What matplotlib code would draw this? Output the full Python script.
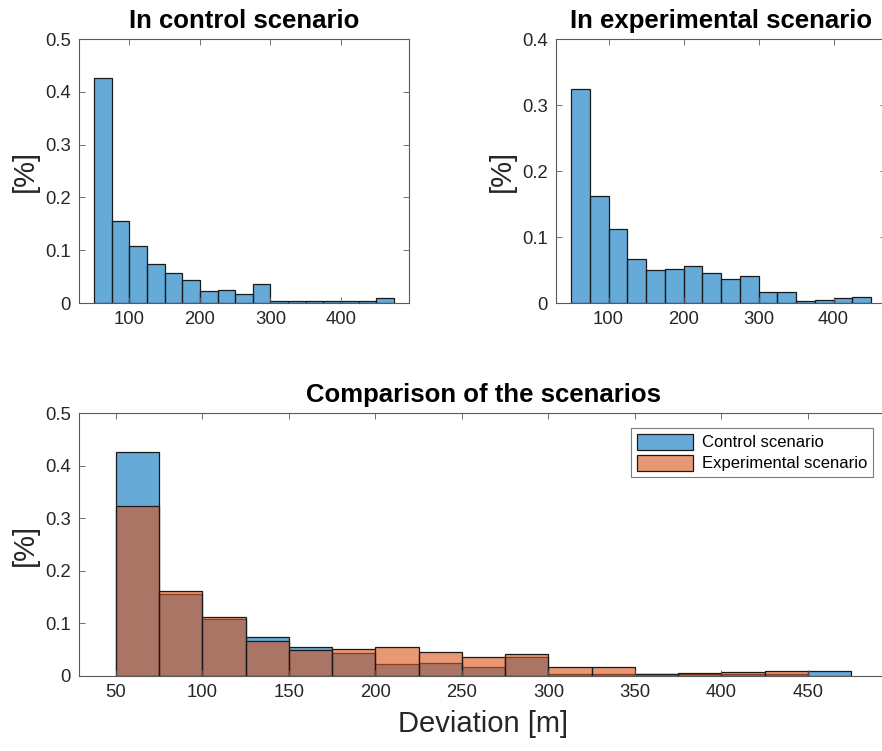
import numpy as np
import matplotlib
matplotlib.use("Agg")
import matplotlib.pyplot as plt

# ---- data ----
bin_edges = [50, 75, 100, 125, 150, 175, 200, 225, 250, 275, 300,
             325, 350, 375, 400, 425, 450, 475]
control = [0.426, 0.156, 0.1085, 0.074, 0.056, 0.0435, 0.0227, 0.0246,
           0.017, 0.036, 0.0044, 0.0044, 0.0044, 0.0044, 0.0044, 0.0044, 0.0095]
experimental = [0.3235, 0.162, 0.1124, 0.0668, 0.050, 0.0516, 0.0557, 0.045,
                0.0365, 0.0415, 0.0167, 0.0167, 0.0035, 0.005, 0.0076, 0.009]

titles = ["In control scenario", "In experimental scenario", "Comparison of the scenarios"]
legend_labels = ["Control scenario", "Experimental scenario"]
ylabel = "[%]"
xlabel = "Deviation [m]"

plt.rcParams['font.family'] = ['Liberation Sans', 'DejaVu Sans']

blue = (0.0, 0.447, 0.741, 0.6)
orange = (0.85, 0.325, 0.098, 0.6)
edge = (0.1, 0.1, 0.1)
axcol = '#262626'

W, H = 882, 751
fig = plt.figure(figsize=(W / 100, H / 100), dpi=100)

def px(l, r, t, b):
    return [l / W, 1 - b / H, (r - l) / W, (b - t) / H]

def style(ax):
    for s in ax.spines.values():
        s.set_color('#5a5a5a')
        s.set_linewidth(0.8)
    ax.tick_params(direction='in', top=True, right=True, length=4, width=0.6,
                   labelsize=13.3, colors='#5a5a5a', labelcolor=axcol, pad=6)

def hist(ax, values, color):
    edges = np.array(bin_edges[:len(values) + 1], dtype=float)
    return ax.bar(edges[:-1], values, width=np.diff(edges), align='edge',
                  facecolor=color, edgecolor=edge, linewidth=0.9)

# top-left
ax1 = fig.add_axes(px(79, 409, 39, 303))
hist(ax1, control, blue)
ax1.set_xlim(28.75, 496.25)
ax1.set_ylim(0, 0.5)
ax1.set_xticks([100, 200, 300, 400])
ax1.set_yticks([0, 0.1, 0.2, 0.3, 0.4, 0.5])
ax1.set_yticklabels(['0', '0.1', '0.2', '0.3', '0.4', '0.5'])
ax1.set_title(titles[0], fontsize=18.5, fontweight='bold', pad=8)
ax1.set_ylabel(ylabel, fontsize=21, color=axcol, labelpad=4)
style(ax1)

# top-right
ax2 = fig.add_axes(px(556, 886, 39, 303))
hist(ax2, experimental, blue)
ax2.set_xlim(30, 470)
ax2.set_ylim(0, 0.4)
ax2.set_xticks([100, 200, 300, 400])
ax2.set_yticks([0, 0.1, 0.2, 0.3, 0.4])
ax2.set_yticklabels(['0', '0.1', '0.2', '0.3', '0.4'])
ax2.set_title(titles[1], fontsize=18.5, fontweight='bold', pad=8)
ax2.set_ylabel(ylabel, fontsize=21, color=axcol, labelpad=4)
style(ax2)

# bottom comparison
ax3 = fig.add_axes(px(79, 888, 413, 676))
hist(ax3, control, blue)
hist(ax3, experimental, orange)
ax3.set_xlim(28.75, 496.25)
ax3.set_ylim(0, 0.5)
ax3.set_xticks([50, 100, 150, 200, 250, 300, 350, 400, 450])
ax3.set_yticks([0, 0.1, 0.2, 0.3, 0.4, 0.5])
ax3.set_yticklabels(['0', '0.1', '0.2', '0.3', '0.4', '0.5'])
ax3.set_title(titles[2], fontsize=18.5, fontweight='bold', pad=8)
ax3.set_ylabel(ylabel, fontsize=21, color=axcol, labelpad=4)
ax3.set_xlabel(xlabel, fontsize=21, color=axcol, labelpad=6)
style(ax3)

from matplotlib.patches import Patch
handles = [Patch(facecolor=blue, edgecolor=edge, linewidth=0.9),
           Patch(facecolor=orange, edgecolor=edge, linewidth=0.9)]
leg = ax3.legend(handles, legend_labels, loc='upper right',
                 bbox_to_anchor=(873 / W, 1 - 428 / H), bbox_transform=fig.transFigure,
                 fontsize=12, frameon=True, fancybox=False, handlelength=3.4,
                 handleheight=1.1, handletextpad=0.5, borderpad=0.35,
                 labelspacing=0.25, borderaxespad=0)
leg.get_frame().set_edgecolor('#5a5a5a')
leg.get_frame().set_linewidth(0.8)

fig.savefig("out.png", dpi=100)
